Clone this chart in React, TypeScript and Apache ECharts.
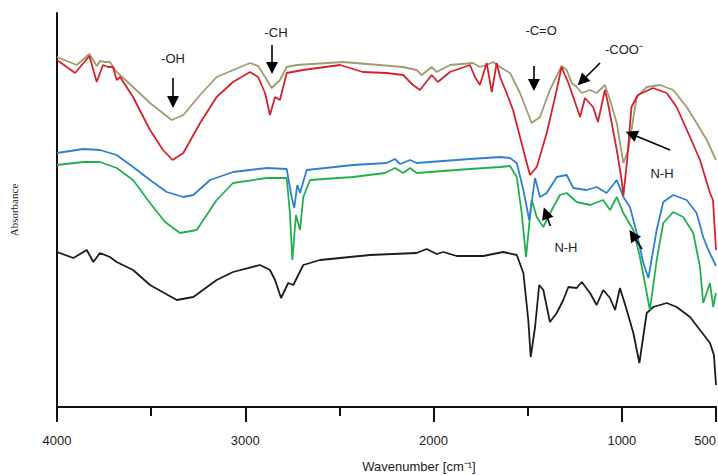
import React, { useEffect, useRef } from "react";
import * as echarts from "echarts";

// Wavenumber (cm-1) vs relative absorbance (arbitrary units)
const olive: [number, number][] = [
  [4000, 350], [3895, 342], [3828, 353], [3789, 341], [3772, 346], [3745, 345], [3719, 345],
  [3683, 335], [3596, 320], [3506, 304], [3391, 287], [3329, 292], [3240, 312], [3152, 330],
  [2975, 344], [2932, 341], [2895, 330], [2860, 319], [2816, 327], [2780, 340], [2727, 342],
  [2481, 345], [2162, 340], [2090, 337], [2063, 332], [2010, 340], [1983, 335], [1913, 342],
  [1791, 344], [1754, 340], [1718, 342], [1684, 345], [1647, 340], [1594, 334], [1541, 314],
  [1479, 284], [1435, 290], [1382, 317], [1320, 341], [1293, 337], [1266, 324], [1240, 320],
  [1213, 314], [1169, 317], [1134, 314], [1090, 322], [1063, 307], [1027, 284], [992, 244],
  [966, 257], [921, 310], [868, 320], [797, 322], [727, 317], [656, 300], [603, 284],
  [549, 267], [500, 247],
];
const red: [number, number][] = [
  [4000, 347], [3904, 334], [3828, 351], [3789, 325], [3756, 342], [3729, 340], [3703, 340],
  [3683, 327], [3665, 330], [3596, 310], [3506, 277], [3437, 257], [3386, 247], [3329, 254],
  [3240, 284], [3152, 310], [3065, 325], [2975, 335], [2932, 330], [2895, 314], [2869, 292],
  [2842, 310], [2816, 307], [2780, 334], [2694, 337], [2497, 342], [2444, 339], [2375, 335],
  [2249, 334], [2162, 332], [2109, 322], [2072, 317], [2010, 332], [1977, 325], [1913, 335],
  [1807, 342], [1780, 330], [1754, 322], [1718, 344], [1691, 315], [1665, 344], [1647, 330],
  [1612, 314], [1578, 297], [1541, 270], [1505, 244], [1488, 232], [1452, 240], [1399, 274],
  [1346, 317], [1320, 340], [1284, 324], [1258, 310], [1222, 290], [1196, 309], [1153, 300],
  [1127, 285], [1090, 317], [1074, 304], [1027, 257], [1001, 227], [992, 211], [972, 247],
  [949, 300], [915, 312], [835, 319], [762, 314], [709, 300], [638, 270], [585, 247],
  [532, 214], [516, 207], [500, 157],
];
const blue: [number, number][] = [
  [4000, 254], [3860, 258], [3772, 257], [3683, 252], [3596, 240], [3506, 227], [3417, 215],
  [3329, 210], [3276, 212], [3187, 227], [3065, 235], [2886, 239], [2780, 238], [2754, 210],
  [2740, 199], [2724, 222], [2709, 214], [2674, 237], [2428, 242], [2249, 244], [2205, 248],
  [2178, 243], [2125, 247], [2090, 244], [1807, 248], [1647, 250], [1594, 249], [1558, 244],
  [1523, 217], [1492, 187], [1461, 229], [1435, 210], [1399, 214], [1346, 230], [1293, 232],
  [1258, 219], [1187, 217], [1134, 220], [1081, 214], [1027, 227], [992, 210], [957, 200],
  [921, 174], [886, 144], [859, 129], [815, 177], [780, 205], [727, 212], [656, 207],
  [603, 194], [568, 170], [541, 157], [515, 147], [500, 141],
];
const green: [number, number][] = [
  [4000, 242], [3860, 245], [3772, 245], [3683, 239], [3596, 227], [3506, 204], [3426, 185],
  [3347, 174], [3258, 177], [3152, 207], [3065, 224], [2886, 229], [2780, 229], [2763, 194],
  [2750, 147], [2731, 192], [2709, 177], [2692, 210], [2656, 227], [2428, 230], [2258, 234],
  [2205, 239], [2161, 234], [2125, 239], [2090, 234], [1807, 238], [1647, 240], [1594, 241],
  [1558, 230], [1532, 194], [1509, 150], [1479, 207], [1452, 190], [1417, 180], [1364, 200],
  [1329, 212], [1293, 214], [1240, 205], [1169, 202], [1099, 207], [1063, 197], [1027, 210],
  [992, 194], [939, 177], [904, 150], [851, 97], [815, 147], [780, 184], [727, 195],
  [674, 190], [621, 174], [585, 140], [568, 104], [532, 124], [515, 100], [500, 114],
];
const black: [number, number][] = [
  [4000, 155], [3913, 149], [3842, 157], [3807, 145], [3772, 154], [3719, 150], [3683, 145],
  [3596, 137], [3506, 122], [3364, 107], [3276, 110], [3152, 127], [3065, 135], [2922, 142],
  [2869, 137], [2842, 127], [2810, 109], [2772, 124], [2745, 122], [2692, 142], [2603, 147],
  [2338, 152], [2090, 154], [2037, 158], [1983, 153], [1948, 155], [1877, 151], [1736, 151],
  [1630, 155], [1558, 152], [1523, 134], [1497, 87], [1484, 50], [1461, 80], [1439, 122],
  [1417, 117], [1382, 85], [1346, 94], [1311, 107], [1284, 120], [1240, 119], [1213, 125],
  [1169, 114], [1134, 102], [1099, 117], [1063, 109], [1036, 97], [1010, 119], [974, 97],
  [939, 74], [907, 44], [868, 94], [833, 100], [762, 104], [709, 100], [638, 90],
  [585, 77], [532, 64], [511, 52], [500, 22],
];

const majorTicks = [500, 1000, 2000, 3000, 4000];
const minorTicks = [1500, 2500, 3500];

// Annotation labels: [wavenumber, absorbance, text]
const labels: [number, number, string][] = [
  [3384, 349, "-OH"],
  [2837, 375, "-CH"],
  [1429, 377, "-C=O"],
  [989, 358, "-COO\u207B"],
  [787, 234, "N-H"],
  [1297, 160, "N-H"],
];
// Arrows: [fromWn, fromVal, toWn, toVal]
const arrows: [number, number, number, number][] = [
  [3384, 329, 3384, 305],
  [2858, 362, 2858, 339],
  [1467, 341, 1467, 322],
  [1116, 344, 1212, 326],
  [744, 257, 950, 273],
  [1380, 181, 1404, 194],
  [893, 158, 942, 172],
];

const FONT = "'Liberation Sans', Arial, sans-serif";

export default function App() {
  const ref = useRef<HTMLDivElement>(null);
  useEffect(() => {
    document.body.style.margin = "0";
    const chart = echarts.init(ref.current!, null, { renderer: "svg" });
    const lineSeries = (name: string, data: [number, number][], color: string) => ({
      name,
      type: "line",
      data,
      showSymbol: false,
      symbol: "none",
      smooth: false,
      lineStyle: { color, width: 1.8 },
      itemStyle: { color },
      silent: true,
    });
    chart.setOption({
      animation: false,
      backgroundColor: "#ffffff",
      grid: { left: 57, right: 2, top: 13, bottom: 68, containLabel: false, outerBoundsMode: "none" },
      xAxis: [
        {
          type: "value",
          inverse: true,
          min: 500,
          max: 4000,
          interval: 500,
          position: "bottom",
          axisLine: { show: true, lineStyle: { color: "#111", width: 2 } },
          axisTick: { show: true, customValues: majorTicks, length: 15, lineStyle: { color: "#111", width: 2 } },
          axisLabel: {
            customValues: majorTicks,
            margin: 27,
            fontSize: 13,
            color: "#222",
            fontFamily: FONT,
            alignMinLabel: "right",
            formatter: (v: number) => String(v),
          },
          splitLine: { show: false },
        },
        {
          type: "value",
          inverse: true,
          min: 500,
          max: 4000,
          interval: 500,
          position: "bottom",
          axisLine: { show: false },
          axisTick: { show: true, customValues: minorTicks, length: 9, lineStyle: { color: "#111", width: 2 } },
          axisLabel: { show: false },
          splitLine: { show: false },
        },
      ],
      yAxis: {
        type: "value",
        min: 0,
        max: 394,
        name: "Absorbance",
        nameLocation: "middle",
        nameGap: 38,
        nameRotate: 90,
        nameTextStyle: { fontFamily: "'Liberation Serif', serif", fontSize: 11, color: "#222" },
        axisLine: { show: true, lineStyle: { color: "#111", width: 2 } },
        axisTick: { show: false },
        axisLabel: { show: false },
        splitLine: { show: false },
      },
      graphic: [
        {
          type: "text",
          style: {
            text: "Wavenumber [cm\u207B\u00B9]",
            x: 419,
            y: 466,
            align: "center",
            verticalAlign: "middle",
            fontSize: 13,
            fontFamily: FONT,
            fill: "#222",
          },
        },
      ],
      series: [
        lineSeries("black", black, "#1c1c1c"),
        lineSeries("green", green, "#22b04e"),
        lineSeries("blue", blue, "#2f80d2"),
        lineSeries("olive", olive, "#a19b72"),
        {
          ...lineSeries("red", red, "#d4232c"),
          markLine: {
            silent: true,
            symbol: ["none", "triangle"],
            symbolSize: [0, 12],
            lineStyle: { color: "#000", width: 1.6, type: "solid" },
            label: { show: false },
            data: arrows.map(([x1, y1, x2, y2]) => [
              { coord: [x1, y1], symbol: "none", lineStyle: { color: "#000", width: 1.6, type: "solid" } },
              { coord: [x2, y2], symbol: "triangle", symbolSize: 12, itemStyle: { color: "#000" } },
            ]),
          },
          markPoint: {
            silent: true,
            symbol: "circle",
            symbolSize: 0,
            data: labels.map(([x, y, t]) => ({
              coord: [x, y],
              value: t,
              label: {
                show: true,
                position: "inside",
                formatter: t,
                fontSize: 13,
                fontFamily: FONT,
                color: "#222",
              },
            })),
          },
        },
      ],
    });
    return () => chart.dispose();
  }, []);
  return <div ref={ref} style={{ position: "fixed", left: 0, top: 0, width: 718, height: 475 }} />;
}
